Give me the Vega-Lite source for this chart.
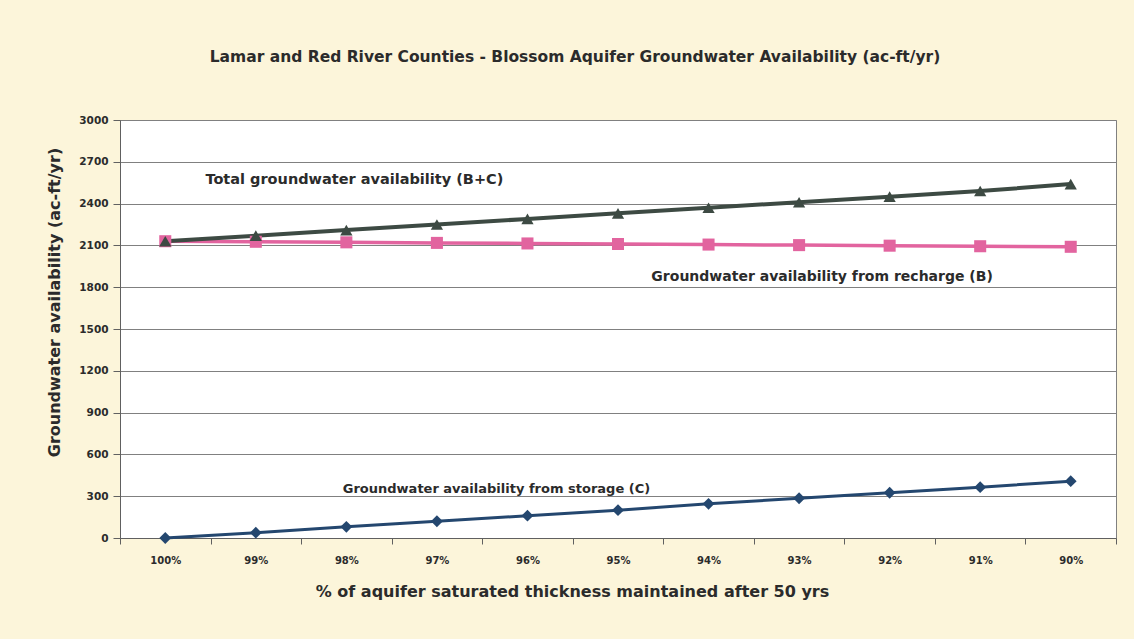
{
  "$schema": "https://vega.github.io/schema/vega-lite/v6.json",
  "autosize": {"type": "none"},
  "padding": {"left": 120, "top": 120, "right": 18, "bottom": 101},
  "width": 996,
  "height": 418,
  "background": "#FCF5DA",
  "title": {
    "text": "Lamar and Red River Counties - Blossom Aquifer Groundwater Availability (ac-ft/yr)",
    "font": "DejaVu Sans",
    "fontSize": 15.5,
    "fontWeight": "bold",
    "color": "#2b2b2b",
    "anchor": "middle",
    "dx": -43,
    "offset": 50
  },
  "config": {
    "view": {"fill": "white", "stroke": "#808080"},
    "font": "DejaVu Sans"
  },
  "datasets": {
    "series": [
      {"pct": "100%", "series": "storage", "value": 0},
      {"pct": "99%", "series": "storage", "value": 38},
      {"pct": "98%", "series": "storage", "value": 80},
      {"pct": "97%", "series": "storage", "value": 120},
      {"pct": "96%", "series": "storage", "value": 160},
      {"pct": "95%", "series": "storage", "value": 200},
      {"pct": "94%", "series": "storage", "value": 245},
      {"pct": "93%", "series": "storage", "value": 285},
      {"pct": "92%", "series": "storage", "value": 325},
      {"pct": "91%", "series": "storage", "value": 365},
      {"pct": "90%", "series": "storage", "value": 408},
      {"pct": "100%", "series": "recharge", "value": 2130},
      {"pct": "99%", "series": "recharge", "value": 2126},
      {"pct": "98%", "series": "recharge", "value": 2122},
      {"pct": "97%", "series": "recharge", "value": 2118},
      {"pct": "96%", "series": "recharge", "value": 2114},
      {"pct": "95%", "series": "recharge", "value": 2110},
      {"pct": "94%", "series": "recharge", "value": 2106},
      {"pct": "93%", "series": "recharge", "value": 2102},
      {"pct": "92%", "series": "recharge", "value": 2098},
      {"pct": "91%", "series": "recharge", "value": 2094},
      {"pct": "90%", "series": "recharge", "value": 2090},
      {"pct": "100%", "series": "total", "value": 2130},
      {"pct": "99%", "series": "total", "value": 2170},
      {"pct": "98%", "series": "total", "value": 2210},
      {"pct": "97%", "series": "total", "value": 2250},
      {"pct": "96%", "series": "total", "value": 2290},
      {"pct": "95%", "series": "total", "value": 2330},
      {"pct": "94%", "series": "total", "value": 2370},
      {"pct": "93%", "series": "total", "value": 2410},
      {"pct": "92%", "series": "total", "value": 2450},
      {"pct": "91%", "series": "total", "value": 2490},
      {"pct": "90%", "series": "total", "value": 2540}
    ],
    "label_total": [
      {"pct": "98%", "value": 2570, "text": "Total groundwater availability (B+C)"}
    ],
    "label_recharge": [
      {"pct": "93%", "value": 1870, "text": "Groundwater availability from recharge (B)"}
    ],
    "label_storage": [
      {"pct": "96%", "value": 350, "text": "Groundwater availability from storage (C)"}
    ]
  },
  "encoding": {
    "x": {
      "field": "pct",
      "type": "ordinal",
      "sort": ["100%", "99%", "98%", "97%", "96%", "95%", "94%", "93%", "92%", "91%", "90%"],
      "scale": {"type": "band", "paddingInner": 0, "paddingOuter": 0},
      "axis": {
        "title": "% of aquifer saturated thickness maintained after 50 yrs",
        "titleFont": "DejaVu Sans",
        "titleFontSize": 16,
        "titleFontWeight": "bold",
        "titleColor": "#2b2b2b",
        "titlePadding": 18,
        "titleX": 452,
        "labelFont": "DejaVu Sans",
        "labelFontSize": 10,
        "labelFontWeight": "bold",
        "labelColor": "#2b2b2b",
        "labelAngle": 0,
        "labelPadding": 11,
        "ticks": true,
        "tickBand": "extent",
        "tickSize": 6,
        "tickColor": "#606060",
        "domainColor": "#606060",
        "grid": false
      }
    },
    "y": {
      "field": "value",
      "type": "quantitative",
      "scale": {"domain": [0, 3000], "nice": false},
      "axis": {
        "title": "Groundwater availability (ac-ft/yr)",
        "titleFont": "DejaVu Sans",
        "titleFontSize": 16,
        "titleFontWeight": "bold",
        "titleColor": "#2b2b2b",
        "titlePadding": 16,
        "titleY": 182,
        "format": "d",
        "values": [0, 300, 600, 900, 1200, 1500, 1800, 2100, 2400, 2700, 3000],
        "labelFont": "DejaVu Sans",
        "labelFontSize": 10.5,
        "labelFontWeight": "bold",
        "labelColor": "#2b2b2b",
        "labelPadding": 5,
        "tickSize": 7,
        "tickColor": "#606060",
        "domainColor": "#606060",
        "grid": true,
        "gridColor": "#808080",
        "gridWidth": 1
      }
    }
  },
  "layer": [
    {
      "data": {"name": "series"},
      "mark": {"type": "line"},
      "encoding": {
        "detail": {"field": "series"},
        "color": {
          "field": "series",
          "type": "nominal",
          "scale": {"domain": ["storage", "recharge", "total"], "range": ["#24476F", "#E2649F", "#3D4A43"]},
          "legend": null
        },
        "strokeWidth": {
          "field": "series",
          "type": "nominal",
          "scale": {"domain": ["storage", "recharge", "total"], "range": [3, 4, 2.5]},
          "legend": null
        }
      }
    },
    {
      "data": {"name": "series"},
      "mark": {"type": "point", "filled": true, "opacity": 1},
      "encoding": {
        "color": {
          "field": "series",
          "type": "nominal",
          "scale": {"domain": ["storage", "recharge", "total"], "range": ["#24476F", "#E2649F", "#3D4A43"]},
          "legend": null
        },
        "shape": {
          "field": "series",
          "type": "nominal",
          "scale": {"domain": ["storage", "recharge", "total"], "range": ["diamond", "square", "triangle-up"]},
          "legend": null
        },
        "size": {
          "field": "series",
          "type": "nominal",
          "scale": {"domain": ["storage", "recharge", "total"], "range": [140, 150, 40]},
          "legend": null
        }
      }
    },
    {
      "data": {"name": "label_total"},
      "mark": {"type": "text", "font": "DejaVu Sans", "fontSize": 14.5, "fontWeight": "bold", "color": "#2b2b2b", "align": "center", "baseline": "middle", "dx": 8},
      "encoding": {"text": {"field": "text"}}
    },
    {
      "data": {"name": "label_recharge"},
      "mark": {"type": "text", "font": "DejaVu Sans", "fontSize": 14, "fontWeight": "bold", "color": "#2b2b2b", "align": "center", "baseline": "middle", "dx": 23},
      "encoding": {"text": {"field": "text"}}
    },
    {
      "data": {"name": "label_storage"},
      "mark": {"type": "text", "font": "DejaVu Sans", "fontSize": 13, "fontWeight": "bold", "color": "#2b2b2b", "align": "center", "baseline": "middle", "dx": -31},
      "encoding": {"text": {"field": "text"}}
    }
  ]
}
